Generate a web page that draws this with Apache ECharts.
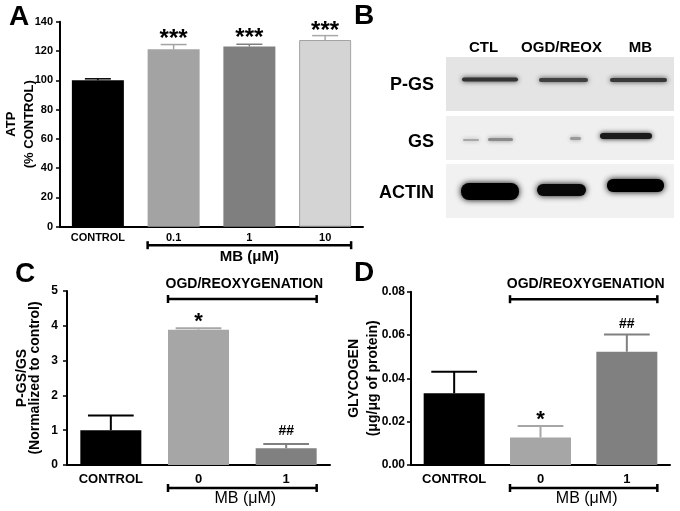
<!DOCTYPE html>
<html><head><meta charset="utf-8">
<script src="https://cdn.jsdelivr.net/npm/echarts@6/dist/echarts.min.js"></script>
<style>html,body{margin:0;padding:0;background:#fff}#c{width:680px;height:511px}</style>
</head><body><div id="c"></div>
<script>
// ---- Data ----
const atpCategories = ['CONTROL', '0.1', '1', '10'];
const atpMean = [100, 121.2, 123.0, 127.5];
const atpErr = [1.0, 3.2, 1.6, 3.0];
const atpSig = ['', '***', '***', '***'];

const pgsCategories = ['CONTROL', '0', '1'];
const pgsMean = [1.0, 3.89, 0.48];
const pgsErr = [0.42, 0.04, 0.12];
const pgsSig = ['', '*', '##'];

const glyCategories = ['CONTROL', '0', '1'];
const glyMean = [0.0331, 0.0127, 0.0523];
const glyErr = [0.0099, 0.0053, 0.0080];
const glySig = ['', '*', '##'];

const blotLanes = ['CTL', 'OGD/REOX', 'MB'];
const blotRows = ['P-GS', 'GS', 'ACTIN'];

// ---- Style ----
const FONT = "'Liberation Sans', Arial, sans-serif";
const colA = ['#000000', '#a3a3a3', '#7f7f7f', '#d4d4d4'];
const errColA = ['#000000', '#a3a3a3', '#7f7f7f', '#a8a8a8'];
const colCD = ['#000000', '#a6a6a6', '#808080'];

function barSeries(idx, vals, cols, bw, border) {
  return {
    type: 'bar', xAxisIndex: idx, yAxisIndex: idx, barWidth: bw, z: 2,
    data: vals.map((v, i) => ({
      value: v,
      itemStyle: { color: cols[i], borderColor: (border && border[i]) || cols[i], borderWidth: (border && border[i]) ? 1 : 0 }
    }))
  };
}

function errSeries(idx, means, errs, sigs, cols, bw, capFrac, lw, sigFont, sigGap) {
  return {
    type: 'custom', xAxisIndex: idx, yAxisIndex: idx, z: 3, clip: false,
    data: means.map((m, i) => [i, m, errs[i]]),
    encode: { x: 0, y: 1 },
    renderItem: function (params, api) {
      const i = api.value(0), m = api.value(1), e = api.value(2);
      const p0 = api.coord([i, m]), p1 = api.coord([i, m + e]);
      const half = bw * capFrac / 2;
      const c = cols[i];
      const ch = [
        { type: 'line', shape: { x1: p0[0], y1: p0[1], x2: p1[0], y2: p1[1] }, style: { stroke: c, lineWidth: lw } },
        { type: 'line', shape: { x1: p1[0] - half, y1: p1[1], x2: p1[0] + half, y2: p1[1] }, style: { stroke: c, lineWidth: lw } }
      ];
      if (sigs[i]) ch.push({ type: 'text', style: { text: sigs[i], x: p1[0], y: p1[1] - sigGap[i], align: 'center', verticalAlign: 'middle', font: Array.isArray(sigFont) ? sigFont[i] : sigFont, fill: '#000' } });
      return { type: 'group', children: ch };
    }
  };
}

// brackets: [startIdx, 0, endIdx, kind] kind 0 = below axis, 1 = top
function bracketSeries(idx, items, labels, bw, opt) {
  return {
    type: 'custom', xAxisIndex: idx, yAxisIndex: idx, z: 4, clip: false, silent: true,
    data: items, encode: { x: 0, y: 1 },
    renderItem: function (params, api) {
      const s = api.value(0), e = api.value(2), kind = api.value(3);
      const ps = api.coord([s, opt.yMin]), pe = api.coord([e, opt.yMin]);
      let y, ly;
      if (kind === 0) { y = ps[1] + opt.below; ly = y + opt.belowLabel; }
      else { y = api.coord([s, opt.yMax])[1] + opt.above; ly = y - opt.aboveLabel; }
      const x1 = ps[0] - bw / 2, x2 = pe[0] + bw / 2;
      const lw = 2.5, th = 4;
      const lab = labels[params.dataIndex];
      return {
        type: 'group', children: [
          { type: 'line', shape: { x1: x1, y1: y, x2: x2, y2: y }, style: { stroke: '#000', lineWidth: lw } },
          { type: 'line', shape: { x1: x1, y1: y - th, x2: x1, y2: y + th }, style: { stroke: '#000', lineWidth: lw } },
          { type: 'line', shape: { x1: x2, y1: y - th, x2: x2, y2: y + th }, style: { stroke: '#000', lineWidth: lw } },
          { type: 'text', style: { text: lab.text, x: (x1 + x2) / 2 + (lab.dx || 0), y: ly, align: 'center', verticalAlign: 'middle', font: lab.font, fill: '#000' } }
        ]
      };
    }
  };
}

function yAxisCfg(idx, min, max, interval, name, nameGap, nameFont, lineH, labelSize, margin, fmt) {
  return {
    gridIndex: idx, type: 'value', min: min, max: max, interval: interval,
    name: name, nameLocation: 'middle', nameRotate: 90, nameGap: nameGap, nameMoveOverlap: false,
    nameTextStyle: { fontFamily: FONT, fontWeight: 'bold', fontSize: nameFont, color: '#000', lineHeight: lineH },
    axisLine: { show: true, lineStyle: { color: '#000', width: 2 } },
    axisTick: { show: true, length: 4, lineStyle: { color: '#000', width: 1.5 } },
    axisLabel: { fontFamily: FONT, fontWeight: 'bold', fontSize: labelSize, color: '#000', margin: margin, formatter: fmt },
    splitLine: { show: false }
  };
}
function xAxisCfg(idx, cats, size, margin) {
  return {
    gridIndex: idx, type: 'category', data: cats,
    axisLine: { show: true, lineStyle: { color: '#000', width: 2 } },
    axisTick: { show: false },
    axisLabel: { fontFamily: FONT, fontWeight: 'bold', fontSize: size, color: '#000', margin: margin, interval: 0 },
    splitLine: { show: false }
  };
}

// ---- Western blot (decorative image, panel B) ----
function band(x, y, w, h, color, blur, r) {
  return { type: 'rect', shape: { x: x, y: y, width: w, height: h, r: r }, style: { fill: color, shadowBlur: blur, shadowColor: color }, silent: true };
}
const blot = [
  { type: 'rect', shape: { x: 446, y: 57, width: 228, height: 54 }, style: { fill: '#e4e4e4' }, silent: true },
  { type: 'rect', shape: { x: 446, y: 116, width: 228, height: 44 }, style: { fill: '#efefef' }, silent: true },
  { type: 'rect', shape: { x: 446, y: 164, width: 228, height: 54 }, style: { fill: '#f1f1f1' }, silent: true },
  // P-GS
  band(462, 77.5, 56, 4, '#333333', 5, 2),
  band(539, 78, 49, 4, '#404040', 5, 2),
  band(610, 78, 57, 4, '#383838', 5, 2),
  // GS
  band(463, 139, 16, 2, '#a8a8a8', 4, 1),
  band(488, 138, 25, 3, '#8a8a8a', 4, 2),
  band(570, 137, 11, 3, '#9a9a9a', 4, 2),
  band(600, 133, 52, 6, '#1a1a1a', 5, 3),
  // ACTIN
  band(461, 183, 58, 17, '#000000', 6, 8),
  band(537, 184, 49, 12, '#080808', 6, 6),
  band(607, 179, 57, 13, '#000000', 6, 6)
];
const laneX = [483.5, 561.5, 640.5];
blotLanes.forEach((t, i) => blot.push({ type: 'text', style: { text: t, x: laneX[i], y: 48, align: 'center', verticalAlign: 'middle', font: 'bold 15px ' + FONT, fill: '#000' } }));
const rowY = [85, 142, 193];
blotRows.forEach((t, i) => blot.push({ type: 'text', style: { text: t, x: 434, y: rowY[i], align: 'right', verticalAlign: 'middle', font: 'bold 18px ' + FONT, fill: '#000' } }));

const letters = [['A', 9, 17], ['B', 354, 16], ['C', 15, 274], ['D', 354, 273]].map(l => ({
  type: 'text', style: { text: l[0], x: l[1], y: l[2], align: 'left', verticalAlign: 'middle', font: 'bold 28px ' + FONT, fill: '#000' }
}));

const chart = echarts.init(document.getElementById('c'), null, { renderer: 'canvas' });
chart.setOption({
  backgroundColor: '#ffffff',
  animation: false,
  grid: [
    { left: 60, top: 21.7, width: 303, height: 205, outerBoundsMode: 'none', containLabel: false },
    { left: 67, top: 291, width: 263, height: 174, outerBoundsMode: 'none', containLabel: false },
    { left: 411, top: 291.7, width: 259, height: 173.3, outerBoundsMode: 'none', containLabel: false }
  ],
  xAxis: [
    xAxisCfg(0, atpCategories, 11, 6),
    xAxisCfg(1, pgsCategories, 13, 8),
    xAxisCfg(2, glyCategories, 13, 8)
  ],
  yAxis: [
    yAxisCfg(0, 0, 140, 20, 'ATP\n(% CONTROL)', 22, 13, 18, 11, 7),
    yAxisCfg(1, 0, 5, 1, 'P-GS/GS\n(Normalized to control)', 25, 14, 13, 12, 9),
    yAxisCfg(2, 0, 0.08, 0.02, 'GLYCOGEN\n(\u03bcg/\u03bcg of protein)', 28, 14, 19, 12, 6, v => v.toFixed(2))
  ],
  series: [
    barSeries(0, atpMean, colA, 52, [null, null, null, '#a3a3a3']),
    errSeries(0, atpMean, atpErr, atpSig, errColA, 52, 0.5, 1.5, 'bold 24px ' + FONT, [0, 5, 6, 4]),
    bracketSeries(0, [[1, 0, 3, 0]], [{ text: 'MB (\u03bcM)', font: 'bold 15px ' + FONT }], 52,
      { yMin: 0, yMax: 140, below: 18.5, belowLabel: 12 }),

    barSeries(1, pgsMean, colCD, 61),
    errSeries(1, pgsMean, pgsErr, pgsSig, colCD, 61, 0.75, 2, ['', 'bold 22px ' + FONT, 'bold 14px ' + FONT], [0, 6, 13]),
    bracketSeries(1, [[1, 0, 2, 0], [1, 0, 2, 1]],
      [{ text: 'MB (\u03bcM)', font: '16px ' + FONT, dx: 3 }, { text: 'OGD/REOXYGENATION', font: 'bold 14px ' + FONT, dx: 2 }], 61,
      { yMin: 0, yMax: 5, below: 23, belowLabel: 11, above: 8, aboveLabel: 15 }),

    barSeries(2, glyMean, colCD, 61),
    errSeries(2, glyMean, glyErr, glySig, colCD, 61, 0.75, 2, ['', 'bold 22px ' + FONT, 'bold 14px ' + FONT], [0, 6, 10]),
    bracketSeries(2, [[1, 0, 2, 0], [1, 0, 2, 1]],
      [{ text: 'MB (\u03bcM)', font: '16px ' + FONT, dx: 3 }, { text: 'OGD/REOXYGENATION', font: 'bold 14px ' + FONT, dx: 2 }], 61,
      { yMin: 0, yMax: 0.08, below: 23, belowLabel: 11, above: 7.5, aboveLabel: 15 })
  ],
  graphic: blot.concat(letters)
});
</script></body></html>
